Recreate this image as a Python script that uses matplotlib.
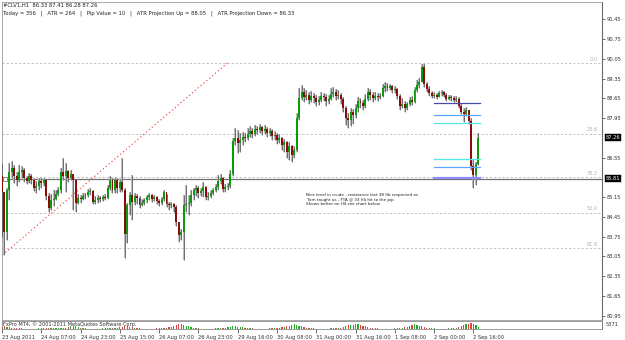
import numpy as np
import matplotlib
matplotlib.use("Agg")
import matplotlib.pyplot as plt
from matplotlib.transforms import blended_transform_factory

# ---------------- data ----------------
first_open = 85.90
closes = [85.33, 83.92, 85.40, 86.04, 86.18, 85.90, 85.76, 86.04, 86.11, 85.83,
          85.72, 85.90, 85.76, 85.47, 85.54, 85.72, 85.65, 85.76, 85.19, 84.77,
          85.05, 85.08, 85.26, 85.40, 86.04, 85.90, 86.08, 85.83, 85.97, 85.76,
          84.94, 85.12, 85.08, 85.19, 85.23, 85.33, 85.37, 84.98, 85.05, 85.12,
          85.08, 85.16, 85.12, 85.47, 85.76, 85.40, 85.76, 85.47, 85.69, 85.40,
          83.85, 84.87, 85.23, 84.98, 85.19, 85.12, 84.87, 84.94, 85.05, 85.16,
          85.23, 85.08, 85.16, 85.01, 84.94, 85.08, 85.33, 84.91, 84.87, 84.91,
          84.80, 84.27, 83.81, 83.92, 84.87, 84.91, 84.94, 85.23, 85.40, 85.47,
          85.30, 85.37, 85.51, 85.16, 85.19, 85.30, 85.40, 85.51, 85.72, 85.83,
          85.44, 85.51, 85.54, 85.97, 87.14, 87.25, 87.07, 87.18, 87.28, 87.25,
          87.39, 87.49, 87.39, 87.56, 87.53, 87.64, 87.49, 87.56, 87.42, 87.49,
          87.32, 87.35, 87.18, 87.25, 87.00, 87.10, 86.75, 86.96, 86.64, 86.82,
          87.95, 88.66, 88.88, 88.70, 88.77, 88.59, 88.73, 88.66, 88.52, 88.59,
          88.73, 88.70, 88.56, 88.63, 88.80, 88.88, 88.73, 88.77, 88.63, 88.31,
          87.95, 87.88, 88.17, 88.06, 88.31, 88.56, 88.49, 88.38, 88.63, 88.88,
          88.77, 88.66, 88.73, 88.70, 88.73, 89.02, 89.09, 89.02, 89.09, 88.95,
          88.98, 88.73, 88.38, 88.45, 88.31, 88.45, 88.59, 88.52, 88.95, 89.12,
          89.23, 89.76, 89.16, 88.98, 88.84, 88.73, 88.77, 88.70, 88.84, 88.88,
          88.77, 88.63, 88.70, 88.66, 88.59, 88.63, 88.38, 88.17, 88.10, 88.24,
          87.85, 86.25, 85.93, 86.33, 87.26]
highs = [86.36, 85.30, 85.47, 86.36, 86.43, 86.29, 86.04, 86.29, 86.25, 86.18,
         85.90, 86.01, 85.97, 85.83, 85.72, 85.83, 85.83, 85.83, 85.76, 85.30,
         85.26, 85.40, 85.40, 85.51, 86.18, 86.54, 86.36, 86.11, 86.11, 85.90,
         85.76, 85.26, 85.23, 85.30, 85.30, 85.44, 85.47, 85.40, 85.19, 85.23,
         85.19, 85.23, 85.26, 85.58, 85.90, 85.83, 85.83, 85.83, 85.79, 86.54,
         85.47, 84.94, 85.33, 85.93, 85.30, 85.26, 85.19, 85.08, 85.12, 85.23,
         85.30, 85.26, 85.23, 85.19, 85.08, 85.16, 85.40, 85.26, 84.98, 84.98,
         84.94, 84.87, 84.27, 84.02, 85.23, 85.58, 85.23, 85.40, 85.47, 85.58,
         85.54, 85.47, 85.69, 85.54, 85.33, 85.40, 85.47, 85.62, 85.93, 85.97,
         85.86, 85.62, 85.65, 86.11, 87.25, 87.60, 87.53, 87.42, 87.46, 87.42,
         87.60, 87.67, 87.60, 87.71, 87.67, 87.74, 87.67, 87.71, 87.64, 87.60,
         87.56, 87.49, 87.42, 87.39, 87.28, 87.21, 87.14, 87.10, 87.00, 86.96,
         88.13, 89.02, 89.12, 89.02, 88.95, 88.88, 88.91, 88.84, 88.77, 88.73,
         88.88, 88.84, 88.80, 88.77, 89.02, 89.05, 88.98, 88.95, 88.84, 88.70,
         88.38, 88.13, 88.31, 88.27, 88.45, 88.70, 88.66, 88.59, 88.80, 89.02,
         88.98, 88.88, 88.88, 88.84, 88.84, 89.16, 89.23, 89.19, 89.16, 89.12,
         89.09, 89.02, 88.80, 88.66, 88.56, 88.52, 88.70, 88.73, 89.05, 89.30,
         89.37, 89.87, 89.87, 89.23, 89.09, 88.91, 88.88, 88.84, 88.91, 88.95,
         88.91, 88.84, 88.77, 88.77, 88.73, 88.73, 88.70, 88.45, 88.31, 88.34,
         88.24, 87.95, 86.47, 86.40, 87.41]
lows = [83.74, 83.10, 83.63, 85.05, 85.83, 85.65, 85.54, 85.69, 85.83, 85.69,
        85.62, 85.65, 85.62, 85.37, 85.30, 85.40, 85.47, 85.54, 85.05, 84.62,
        84.70, 84.84, 85.05, 85.19, 85.30, 85.76, 85.33, 85.69, 85.76, 84.70,
        84.62, 84.91, 84.94, 85.05, 85.08, 85.16, 85.23, 84.91, 84.91, 84.94,
        84.98, 85.01, 85.05, 85.08, 85.40, 85.30, 85.30, 85.30, 85.33, 85.33,
        83.00, 83.53, 84.52, 84.34, 84.87, 84.91, 84.77, 84.84, 84.87, 84.94,
        85.05, 84.98, 85.01, 84.91, 84.84, 84.87, 85.01, 84.80, 84.70, 84.77,
        84.62, 84.13, 83.56, 83.63, 82.92, 84.62, 84.52, 84.84, 85.05, 85.19,
        85.12, 85.19, 85.16, 85.05, 85.05, 85.12, 85.23, 85.33, 85.40, 85.62,
        85.33, 85.33, 85.40, 85.47, 85.90, 87.00, 86.71, 86.75, 87.00, 87.10,
        87.18, 87.28, 87.25, 87.32, 87.39, 87.42, 87.35, 87.39, 87.28, 87.32,
        87.18, 87.18, 87.03, 87.07, 86.82, 86.75, 86.54, 86.47, 86.40, 86.54,
        86.75, 87.88, 88.59, 88.52, 88.59, 88.45, 88.52, 88.49, 88.38, 88.41,
        88.52, 88.56, 88.38, 88.45, 88.59, 88.70, 88.59, 88.63, 88.45, 88.17,
        87.71, 87.60, 87.67, 87.74, 87.95, 88.17, 88.31, 88.24, 88.31, 88.56,
        88.59, 88.52, 88.59, 88.56, 88.63, 88.70, 88.88, 88.91, 88.95, 88.84,
        88.84, 88.63, 88.24, 88.31, 88.17, 88.24, 88.38, 88.41, 88.49, 88.88,
        89.02, 89.23, 89.05, 88.88, 88.73, 88.66, 88.66, 88.63, 88.70, 88.73,
        88.70, 88.56, 88.59, 88.56, 88.52, 88.52, 88.31, 88.10, 87.81, 88.03,
        87.74, 86.11, 85.47, 85.58, 86.28]
volumes = [2100, 2600, 1900, 1500, 1200, 900, 700, 600, 500, 400, 350, 300, 300, 350, 400, 450,
           500, 450, 500, 550, 600, 700, 800, 900, 1000, 1100, 1200, 1800, 2400, 2700, 2300, 1500,
           900, 600, 450, 400, 350, 300, 300, 350, 400, 450, 500, 600, 700, 900, 1100, 1300,
           1500, 2000, 2600, 2200, 1800, 1400, 1000, 700, 500, 400, 350, 300, 300, 350, 400, 500,
           600, 700, 900, 1200, 1600, 2100, 2800, 3800, 4600, 4200, 3600, 2900, 2200, 1500, 1000, 700,
           500, 400, 350, 300, 300, 350, 400, 500, 600, 800, 1000, 1200, 1500, 1900, 2600, 2200,
           2000, 1700, 1400, 1100, 900, 700, 500, 400, 350, 300, 300, 350, 400, 500, 600, 700,
           900, 1100, 1400, 1800, 2300, 2800, 3300, 4200, 3600, 3000, 2400, 1800, 1300, 900, 600, 500,
           400, 350, 300, 300, 350, 400, 500, 650, 800, 1000, 1300, 1700, 2400, 3200, 3800, 3300,
           4000, 4300, 3500, 2800, 2200, 1700, 1200, 800, 600, 450, 400, 350, 300, 300, 350, 400,
           500, 650, 900, 1200, 1600, 2100, 2700, 3400, 4200, 3600, 2900, 2300, 1700, 1200, 800, 600,
           500, 400, 350, 300, 300, 350, 450, 600, 900, 1300, 1900, 2600, 3300, 4000, 4800, 5371,
           4200, 3100, 1800]

date_tick_bars = [0, 16, 32, 48, 64, 80, 96, 112, 128, 144, 160, 176, 192]
date_labels = ["23 Aug 2011", "24 Aug 07:00", "24 Aug 23:00", "25 Aug 15:00", "26 Aug 07:00",
               "26 Aug 23:00", "29 Aug 16:00", "30 Aug 08:00", "31 Aug 00:00", "31 Aug 16:00",
               "1 Sep 08:00", "2 Sep 00:00", "2 Sep 16:00"]
price_ticks = [91.45, 90.75, 90.05, 89.35, 88.65, 87.95, 86.55, 85.15, 84.45,
               83.75, 83.05, 82.35, 81.65, 80.95]
fib_levels = [89.90, 87.40, 85.85, 84.60, 83.35]
fib_labels = ["0.0", "23.6", "38.2", "50.0", "61.8"]
hline_level = 85.81
last_price = 87.26
trend_bars = [0.14, 91.8]
trend_prices = [83.10, 89.90]
proj_levels = [88.47, 88.07, 87.79, 86.49, 86.21, 85.84]
proj_colors = ["#4a4aa8", "#5aa8ff", "#55e6e6", "#55e6e6", "#5aa8ff", "#8c8cff"]
proj_bars = [176, 194.6]
header1 = "#CLV1,H1  86.33 87.41 86.28 87.26"
header2 = ("Today = 356   |   ATR = 264   |   Pip Value = 10   |   "
           "ATR Projection Up = 88.05   |   ATR Projection Down = 86.33")
note_lines = ["Nice level in crude - resistance last 38 fib respected as",
              " Tom taught us - FTA @ 33 fib hit to the pip",
              "Shows better on H4 see chart below"]
vol_label = "5371"
copyright_text = "FxPro MT4, \u00a9 2001-2011 MetaQuotes Software Corp."

# ---------------- figure ----------------
W, H = 625, 340
fig = plt.figure(figsize=(W / 100, H / 100), dpi=100)
fig.patch.set_facecolor("white")

def fx(px):
    return px / W

def fy(py):
    return 1 - py / H

ax = fig.add_axes([fx(2), fy(320), fx(602) - fx(2), fy(2) - fy(320)])
axv = fig.add_axes([fx(2), fy(329), fx(602) - fx(2), fy(321) - fy(329)], sharex=ax)

n = len(closes)
idx = np.arange(n)
c = np.array(closes)
o = np.concatenate([[first_open], c[:-1]])
h = np.array(highs)
l = np.array(lows)
up = c >= o

bull = "#0b9a0b"
bear = "#8a0b0b"

# wicks
ax.vlines(idx, l, h, color="#b8b8b8", lw=1.3, zorder=2)
ax.vlines(idx, l, h, color="#505050", lw=0.5, zorder=3)
# bodies
bottoms = np.minimum(o, c)
heights = np.maximum(np.abs(c - o), 0.02)
ax.bar(idx, heights, bottom=bottoms, width=0.8,
       color=np.where(up, bull, bear), edgecolor="none", zorder=4)

# fib levels
for lev, lab in zip(fib_levels, fib_labels):
    ax.axhline(lev, color="#b4b4b4", lw=0.6, ls=(0, (2.5, 2.5)), zorder=1)
    ax.text(0.993, lev + 0.05, lab, transform=blended_transform_factory(ax.transAxes, ax.transData),
            ha="right", va="bottom", fontsize=3.6, color="#b0b0b0")

# horizontal line at 85.81
ax.axhline(hline_level, color="#707070", lw=0.9, zorder=1)
ax.plot([1.2], [hline_level], marker="s", ms=2.5, mfc="white", mec="#606060", mew=0.5,
        zorder=5, clip_on=False)

# trend line
ax.plot(trend_bars, trend_prices, color="#ee5050", lw=0.8, ls=(0, (1.2, 2.2)), zorder=2)

# projection lines
for lev, col in zip(proj_levels, proj_colors):
    lw = 1.6 if col == "#8c8cff" else 0.9
    ax.plot(proj_bars, [lev, lev], color=col, lw=lw, zorder=5)

ax.set_xlim(0.26, 244.36)
ax.set_ylim(80.80, 92.06)

# right price axis
ax.yaxis.tick_right()
ax.set_yticks(price_ticks)
ax.set_yticklabels([f"{p:.2f}" for p in price_ticks])
ax.tick_params(axis="y", which="both", length=2, width=0.5, pad=1.5, labelsize=3.7,
               colors="#303030")
ax.tick_params(axis="x", which="both", bottom=False, labelbottom=False)
for side in ["top", "left", "bottom"]:
    ax.spines[side].set_color("#9a9a9a")
    ax.spines[side].set_linewidth(0.6)
ax.spines["right"].set_color("#6a6a6a")
ax.spines["right"].set_linewidth(0.8)

btr = blended_transform_factory(ax.transAxes, ax.transData)
for val in [last_price, hline_level]:
    ax.text(1.006, val, f"{val:.2f}", transform=btr, ha="left", va="center",
            fontsize=3.7, color="white", zorder=6,
            bbox=dict(boxstyle="square,pad=0.15", fc="black", ec="black", lw=0.3))

# header
fig.text(fx(3), fy(5), header1, fontsize=3.8, ha="left", va="center", color="#202020")
fig.text(fx(3), fy(13), header2, fontsize=3.8, ha="left", va="center", color="#202020")

# note
for k, line in enumerate(note_lines):
    fig.text(fx(306), fy(195 + 4.6 * k), line, fontsize=3.0, ha="left", va="center",
             color="#202020")

# volume panel
vcols = np.where(up, "#1fae1f", "#e04040")
axv.bar(idx, volumes, width=0.5, color=vcols, edgecolor="none")
axv.set_ylim(0, max(volumes) * 1.3)
axv.set_yticks([])
axv.yaxis.tick_right()
for side in ["top", "left", "bottom", "right"]:
    axv.spines[side].set_color("#8a8a8a")
    axv.spines[side].set_linewidth(0.6)
axv.spines["right"].set_color("#6a6a6a")
axv.text(1.006, 0.62, vol_label, transform=axv.transAxes, ha="left", va="center",
         fontsize=3.7, color="#303030")
axv.text(0.002, 0.62, copyright_text, transform=axv.transAxes, ha="left", va="center",
         fontsize=3.6, color="#303030")

axv.set_xticks(date_tick_bars)
axv.set_xticklabels(date_labels)
axv.tick_params(axis="x", length=3, width=0.5, pad=1.5, labelsize=3.7, colors="#303030")
for t in axv.get_xticklabels():
    t.set_horizontalalignment("left")

fig.savefig("out.png", dpi=100, facecolor="white")
